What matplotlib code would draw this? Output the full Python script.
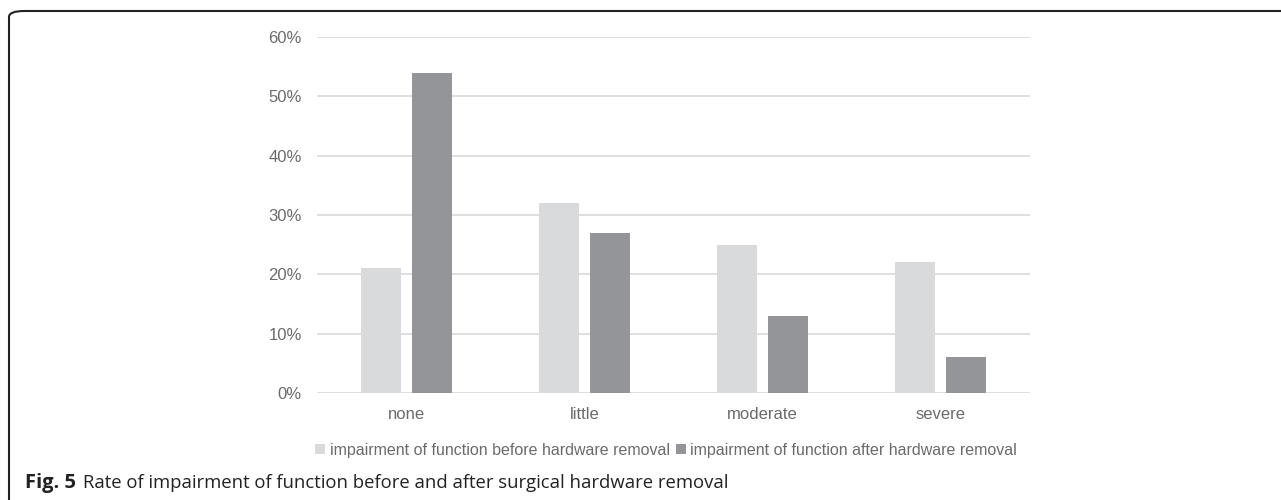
import matplotlib.pyplot as plt
import matplotlib.patches as mpatches
from matplotlib.ticker import PercentFormatter
import numpy as np

# Datos del gráfico
categorias = ["none", "little", "moderate", "severe"]
antes = [0.21, 0.32, 0.25, 0.22]
despues = [0.54, 0.27, 0.13, 0.06]
etiqueta_antes = "impairment of function before hardware removal"
etiqueta_despues = "impairment of function after hardware removal"
yticks = [0, 0.1, 0.2, 0.3, 0.4, 0.5, 0.6]
titulo_fig = "Fig. 5"
titulo_texto = "Rate of impairment of function before and after surgical hardware removal"

color_antes = "#D9DADC"
color_despues = "#939598"
color_texto = "#6B6B6B"

plt.rcParams['font.family'] = ['Liberation Sans', 'DejaVu Sans']

fig = plt.figure(figsize=(12.81, 5.0), dpi=100)
ax = fig.add_axes([0.2475, 0.214, 0.5566, 0.712])

x = np.arange(len(categorias))
ancho = 0.225
desplaz = 0.143
ax.bar(x - desplaz, antes, width=ancho, color=color_antes, label=etiqueta_antes, zorder=3)
ax.bar(x + desplaz, despues, width=ancho, color=color_despues, label=etiqueta_despues, zorder=3)

ax.set_xlim(-0.5, 3.5)
ax.set_ylim(0, 0.6)
ax.set_yticks(yticks)
ax.yaxis.set_major_formatter(PercentFormatter(1.0, decimals=0))
ax.set_xticks(x)
ax.set_xticklabels(categorias)
ax.grid(axis="y", color="#D9D9D9", linewidth=1.2, zorder=0)
ax.tick_params(axis="both", length=0, labelsize=12, labelcolor=color_texto)
ax.tick_params(axis="y", pad=11)
ax.tick_params(axis="x", pad=10)
for s in ax.spines.values():
    s.set_visible(False)

# Leyenda debajo del gráfico
fig.legend(loc="center", bbox_to_anchor=(0.52, 0.1), ncol=2, frameon=False,
           fontsize=11.5, handlelength=0.6, handleheight=0.6, handletextpad=0.3,
           columnspacing=0.4, labelcolor=color_texto)

# Pie de figura
fig.text(25 / 1281, 0.034, titulo_fig, fontsize=14.5, family="Open Sans", weight="bold",
         va="center", ha="left", color="#222222")
fig.text(83 / 1281, 0.034, titulo_texto,
         fontsize=13.3, family="Open Sans", va="center", ha="left", color="#222222")

# Marco redondeado
marco = mpatches.FancyBboxPatch((9 / 1281, -0.2), 1.2, 1.2 - 11 / 500,
                                boxstyle="round,pad=0,rounding_size=0.012",
                                transform=fig.transFigure, fill=False,
                                edgecolor="#222222", linewidth=1.5, clip_on=False)
fig.patches.append(marco)

fig.savefig("out.png", dpi=100)
